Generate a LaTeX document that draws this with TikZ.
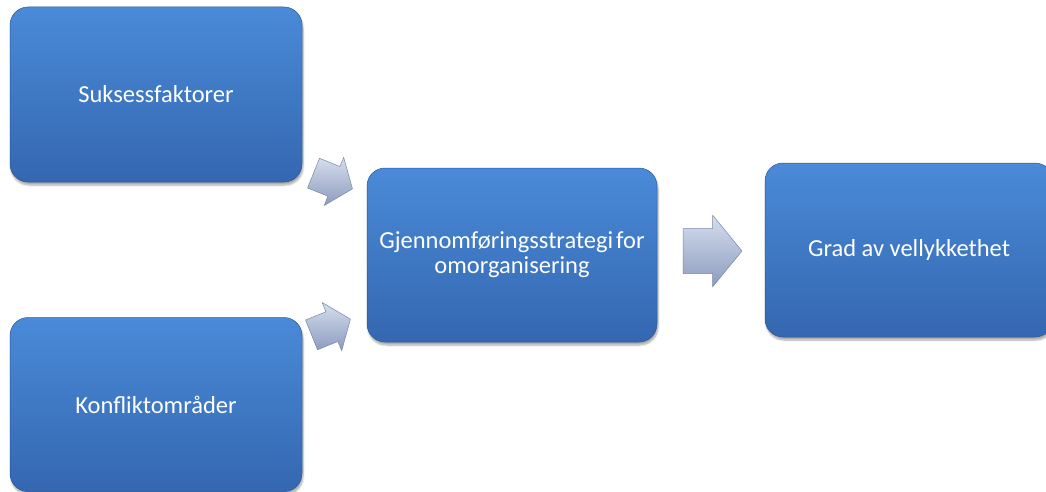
\documentclass[tikz,border=0pt]{standalone}
\usepackage{fontspec}
\setmainfont{Carlito}
\usetikzlibrary{shadows.blur}
\definecolor{boxtop}{RGB}{74,138,216}
\definecolor{boxbot}{RGB}{52,103,176}
\definecolor{boxedge}{RGB}{42,88,152}
\definecolor{arrtop}{RGB}{214,222,238}
\definecolor{arrbot}{RGB}{140,156,190}
\definecolor{arredge}{RGB}{120,135,170}
\tikzset{
  box/.style={rectangle, rounded corners=18pt, top color=boxtop, bottom color=boxbot,
    draw=boxedge, line width=0.5pt, text=white, align=center,
    font=\fontsize{24.5pt}{25pt}\selectfont,
    blur shadow={shadow xshift=1pt, shadow yshift=-3pt, shadow blur steps=6, shadow opacity=35}},
  blockarrow/.style={top color=arrtop, bottom color=arrbot, draw=arredge, line width=0.5pt, line join=round}
}
\begin{document}
\begin{tikzpicture}[x=1pt,y=-1pt]
\useasboundingbox (0,0) rectangle (1046,492);
\node[box, minimum width=292pt, minimum height=175pt] (s) at (156,94.5) {Suksessfaktorer};
\node[box, minimum width=292pt, minimum height=174pt] (k) at (156,404.5) {Konfliktområder};
\node[box, minimum width=290pt, minimum height=174pt] (g) at (512,255) {Gjennomføringsstrategi\hspace{0.12em}for\\omorganisering};
\node[box, minimum width=288pt, minimum height=174pt] (v) at (909,250) {Grad av vellykkethet};
% block arrows
\begin{scope}[shift={(333,181)}, rotate=-22]
  \coordinate (a1) at (0,0);
  \path[blockarrow] (-21,-16) -- (1,-16) -- (1,-26) -- (21,0) -- (1,26) -- (1,16) -- (-21,16) -- cycle;
\end{scope}
\begin{scope}[shift={(331,327)}, rotate=22]
  \coordinate (a2) at (0,0);
  \path[blockarrow] (-21,-16) -- (1,-16) -- (1,-26) -- (21,0) -- (1,26) -- (1,16) -- (-21,16) -- cycle;
\end{scope}
\begin{scope}[shift={(712.5,251)}]
  \coordinate (a3) at (0,0);
  \path[blockarrow] (-29.5,-22.5) -- (0,-22.5) -- (0,-36) -- (29.5,0) -- (0,36) -- (0,22.5) -- (-29.5,22.5) -- cycle;
\end{scope}
\end{tikzpicture}
\end{document}
